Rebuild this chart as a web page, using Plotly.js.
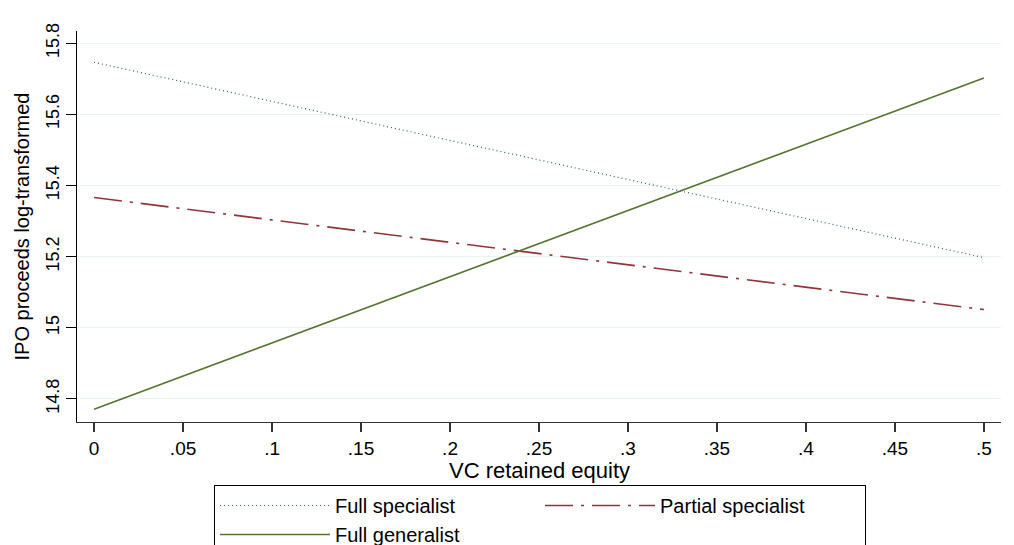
<!DOCTYPE html>
<html>
<head>
<meta charset="utf-8">
<script src="https://cdn.plot.ly/plotly-3.0.1.min.js"></script>
<style>html,body{margin:0;padding:0;background:#fff;}#chart{width:1014px;height:545px;}</style>
</head>
<body>
<div id="chart"></div>
<script>
const equity = [0, 0.5];
const fullSpecialist = [15.746, 15.197];
const partialSpecialist = [15.366, 15.051];
const fullGeneralist = [14.771, 15.702];
const xTickVals = [0, 0.05, 0.1, 0.15, 0.2, 0.25, 0.3, 0.35, 0.4, 0.45, 0.5];
const xTickText = ["0", ".05", ".1", ".15", ".2", ".25", ".3", ".35", ".4", ".45", ".5"];
const yTickVals = [14.8, 15, 15.2, 15.4, 15.6, 15.8];
const yTickText = ["14.8", "15", "15.2", "15.4", "15.6", "15.8"];
const xTitle = "VC retained equity";
const yTitle = "IPO proceeds log-transformed";

const font = "Liberation Sans, Arial, sans-serif";
const traces = [
  {x: equity, y: fullSpecialist, name: "Full specialist", mode: "lines",
   line: {color: "#2f5b86", width: 1.2, dash: "1px,3px"}},
  {x: equity, y: partialSpecialist, name: "Partial specialist", mode: "lines",
   line: {color: "#90353b", width: 1.6, dash: "28px,8px,3px,8px"}},
  {x: equity, y: fullGeneralist, name: "Full generalist", mode: "lines",
   line: {color: "#55752f", width: 1.6}}
];
const layout = {
  width: 1014, height: 545,
  paper_bgcolor: "#fff", plot_bgcolor: "#fff",
  margin: {l: 77, r: 13, t: 31, b: 123, autoexpand: false},
  font: {family: font, size: 18, color: "#000"},
  showlegend: true,
  xaxis: {
    range: [-0.0096, 0.5096], tickvals: xTickVals, ticktext: xTickText,
    showgrid: false, zeroline: false, showline: true, linecolor: "#333", linewidth: 1.2,
    ticks: "outside", ticklen: 9, tickcolor: "#333", tickwidth: 1.2,
    tickfont: {family: font, size: 19}
  },
  yaxis: {
    range: [14.735, 15.834], tickvals: yTickVals, ticktext: yTickText,
    showgrid: true, gridcolor: "#eaf2f3", gridwidth: 1.2,
    zeroline: false, showline: true, linecolor: "#000", linewidth: 1.2,
    ticks: "outside", ticklen: 10, tickcolor: "#000", tickwidth: 1.2,
    tickangle: -90,
    tickfont: {family: font, size: 18},
    title: {text: yTitle, font: {family: font, size: 20}, standoff: 7}
  },
  annotations: [{
    text: xTitle, xref: "paper", yref: "paper", x: 0.5, y: -0.1228,
    xanchor: "center", yanchor: "middle", showarrow: false,
    font: {family: font, size: 22}
  }],
  legend: {
    orientation: "h", x: 0.1483, xanchor: "left", y: -0.1611, yanchor: "top",
    bordercolor: "#000", borderwidth: 1, bgcolor: "#fff",
    entrywidth: 200, entrywidthmode: "pixels", itemwidth: 110,
    traceorder: "normal",
    font: {family: font, size: 20}
  }
};
Plotly.newPlot("chart", traces, layout, {staticPlot: true});
</script>
</body>
</html>
